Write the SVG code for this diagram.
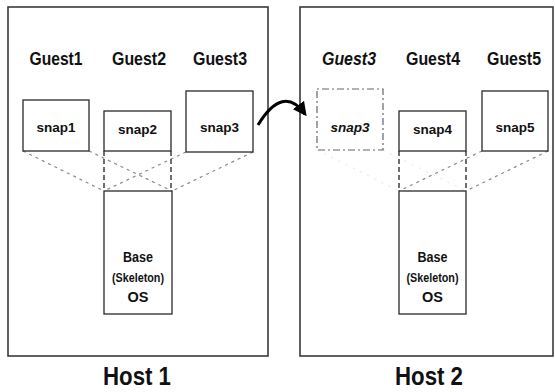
<svg xmlns="http://www.w3.org/2000/svg" width="555" height="392" viewBox="0 0 555 392">
  <defs>
    <style>
      .host { fill: none; stroke: #3a3a3a; stroke-width: 1.6; }
      .box { fill: #fff; stroke: #2a2a2a; stroke-width: 1.3; }
      .ghost { fill: #fff; stroke: #666; stroke-width: 1.2; stroke-dasharray: 2 3 7 3; }
      .t { font-family: "Liberation Sans", Arial, sans-serif; font-weight: bold; fill: #111; text-anchor: middle; }
      .guest { font-size: 17.5px; }
      .snap { font-size: 13.5px; }
      .base { font-size: 14.5px; }
      .small { font-size: 12.5px; }
      .hostlabel { font-size: 25px; }
      .it { font-style: italic; }
      .link { fill: none; stroke: #8a8a8a; stroke-width: 1.2; stroke-dasharray: 3 4; }
      .faint { fill: none; stroke: #e4e4e4; stroke-width: 1; stroke-dasharray: 2 6; }
      .stem { fill: none; stroke: #333; stroke-width: 1.4; stroke-dasharray: 5 3; }
      .move { fill: none; stroke: #000; stroke-width: 3; }
    </style>
    <marker id="head" viewBox="0 0 10 10" refX="8" refY="5" markerUnits="userSpaceOnUse" markerWidth="14" markerHeight="14" orient="auto">
      <path d="M0,0 L10,5 L0,10 z" fill="#000"/>
    </marker>
  </defs>

  <rect width="555" height="392" fill="#fff"/>

  <!-- host frames -->
  <g id="host1">
    <rect class="host" x="8" y="7" width="260" height="349"/>
    <text class="t hostlabel" x="137" y="385" textLength="68" lengthAdjust="spacingAndGlyphs">Host 1</text>
  </g>
  <g id="host2">
    <rect class="host" x="300" y="7" width="253" height="349"/>
    <text class="t hostlabel" x="429" y="385" textLength="68" lengthAdjust="spacingAndGlyphs">Host 2</text>
  </g>

  <!-- connectors: snapshot-to-base links and the migration arrow -->
  <g id="connectors">
    <line class="link" x1="23" y1="151" x2="104" y2="191"/>
    <line class="link" x1="89" y1="151" x2="172" y2="191"/>
    <line class="link" x1="186" y1="152" x2="104" y2="191"/>
    <line class="link" x1="253" y1="152" x2="172" y2="191"/>
    <line class="stem" x1="104" y1="151" x2="104" y2="191"/>
    <line class="stem" x1="171" y1="151" x2="171" y2="191"/>

    <line class="faint" x1="317" y1="150" x2="399" y2="191"/>
    <line class="faint" x1="383" y1="150" x2="466" y2="191"/>
    <line class="link" x1="482" y1="151" x2="399" y2="191"/>
    <line class="link" x1="548" y1="151" x2="466" y2="191"/>
    <line class="stem" x1="399" y1="151" x2="399" y2="191"/>
    <line class="stem" x1="466" y1="151" x2="466" y2="191"/>

    <path class="move" d="M258,125 Q283,84 305,114" marker-end="url(#head)"/>
  </g>

  <!-- Host 1 guests -->
  <g id="guest1">
    <text class="t guest" x="56" y="65" textLength="53" lengthAdjust="spacingAndGlyphs">Guest1</text>
    <rect class="box" x="23" y="100" width="66" height="51"/>
    <text class="t snap" x="56" y="132">snap1</text>
  </g>
  <g id="guest2">
    <text class="t guest" x="139" y="65" textLength="54" lengthAdjust="spacingAndGlyphs">Guest2</text>
    <rect class="box" x="104" y="111" width="67" height="40"/>
    <text class="t snap" x="137.5" y="134">snap2</text>
  </g>
  <g id="guest3">
    <text class="t guest" x="220" y="65" textLength="54" lengthAdjust="spacingAndGlyphs">Guest3</text>
    <rect class="box" x="186" y="91" width="67" height="61"/>
    <text class="t snap" x="219.5" y="132">snap3</text>
  </g>
  <g id="base1">
    <rect class="box" x="104" y="191" width="68" height="123"/>
    <text class="t base" x="138" y="262" textLength="30" lengthAdjust="spacingAndGlyphs">Base</text>
    <text class="t small" x="138" y="282" textLength="52" lengthAdjust="spacingAndGlyphs">(Skeleton)</text>
    <text class="t base" x="138" y="302">OS</text>
  </g>

  <!-- Host 2 guests -->
  <g id="guest3-moved">
    <text class="t guest it" x="349" y="65" textLength="54" lengthAdjust="spacingAndGlyphs">Guest3</text>
    <rect class="ghost" x="317" y="89" width="66" height="61"/>
    <text class="t snap it" x="350" y="132">snap3</text>
  </g>
  <g id="guest4">
    <text class="t guest" x="433" y="65" textLength="54" lengthAdjust="spacingAndGlyphs">Guest4</text>
    <rect class="box" x="399" y="111" width="67" height="40"/>
    <text class="t snap" x="432.5" y="134">snap4</text>
  </g>
  <g id="guest5">
    <text class="t guest" x="514" y="65" textLength="54" lengthAdjust="spacingAndGlyphs">Guest5</text>
    <rect class="box" x="482" y="91" width="66" height="60"/>
    <text class="t snap" x="515" y="132">snap5</text>
  </g>
  <g id="base2">
    <rect class="box" x="399" y="191" width="67" height="123"/>
    <text class="t base" x="432.5" y="262" textLength="30" lengthAdjust="spacingAndGlyphs">Base</text>
    <text class="t small" x="432.5" y="282" textLength="52" lengthAdjust="spacingAndGlyphs">(Skeleton)</text>
    <text class="t base" x="432.5" y="302">OS</text>
  </g>
</svg>
